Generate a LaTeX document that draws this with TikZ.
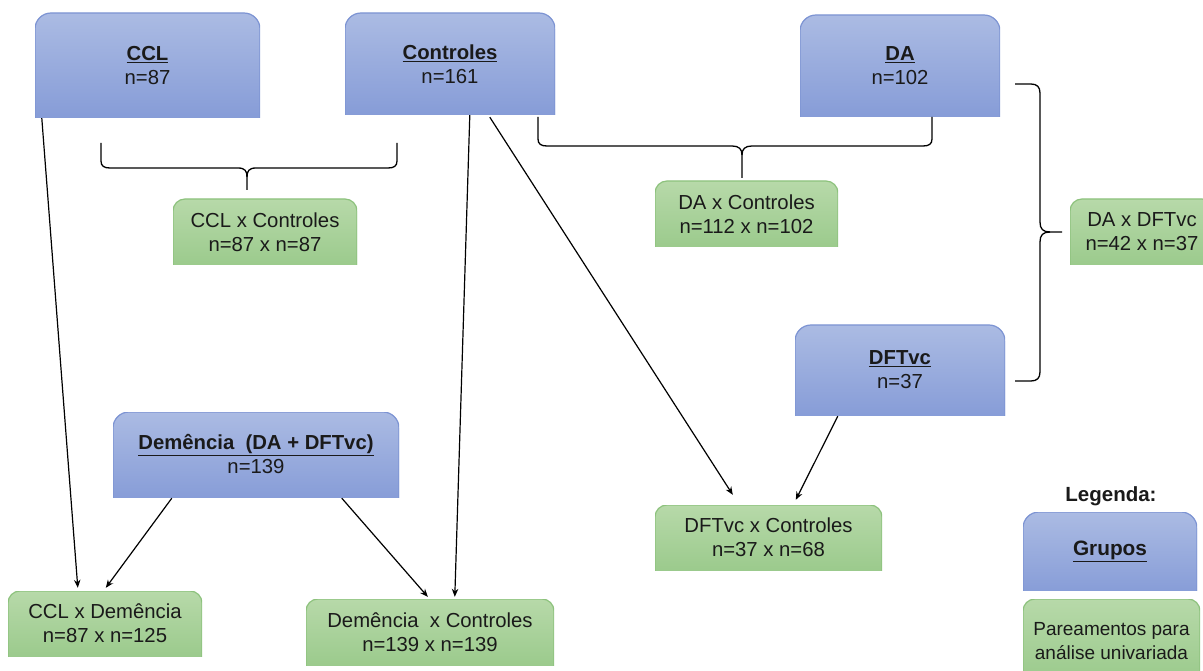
\documentclass[tikz,border=0pt]{standalone}
\usepackage{fontspec}
\setmainfont{Liberation Sans}
\usetikzlibrary{arrows.meta,calc}
\definecolor{bluetop}{HTML}{ABBBE3}
\definecolor{bluebot}{HTML}{7F96D5}
\definecolor{blueedge}{HTML}{7D94D3}
\definecolor{greentop}{HTML}{B7D9A9}
\definecolor{greenbot}{HTML}{93C684}
\definecolor{greenedge}{HTML}{8DC27D}
\definecolor{txt}{HTML}{1A1A1A}
\begin{document}
\begin{tikzpicture}[x=1pt,y=-1pt,
  boxbase/.style={inner sep=0pt, text=txt, align=center, font=\fontsize{20.3}{24}\selectfont},
  grp/.style={boxbase,
    path picture={\path[top color=bluetop,bottom color=bluebot,draw=blueedge,line width=1.2pt,rounded corners=16pt]
      ([yshift=-20pt]path picture bounding box.south west) rectangle (path picture bounding box.north east);}},
  pair/.style={boxbase,
    path picture={\path[top color=greentop,bottom color=greenbot,draw=greenedge,line width=1.2pt,rounded corners=12pt]
      ([yshift=-20pt]path picture bounding box.south west) rectangle (path picture bounding box.north east);}},
  conn/.style={draw=black, line width=1.2pt, -{Stealth[length=8pt,width=6.5pt]}},
  bracestyle/.style={draw=black, line width=1.3pt}]
\useasboundingbox (0,0) rectangle (1203,671);

% group boxes
\node[grp, minimum width=225pt, minimum height=105pt] (ccl) at (147.5,65.5) {\underline{\textbf{CCL}}\\n=87};
\node[grp, minimum width=210pt, minimum height=102pt] (ctrl) at (450,64) {\underline{\textbf{Controles}}\\n=161};
\node[grp, minimum width=200pt, minimum height=102pt] (da) at (900,66) {\underline{\textbf{DA}}\\n=102};
\node[grp, minimum width=210pt, minimum height=90pt] (dft) at (900,370) {\underline{\textbf{DFTvc}}\\n=37};
\node[grp, minimum width=286pt, minimum height=85pt] (dem) at (256,454.5) {\underline{\textbf{Demência\ \ (DA + DFTvc)}}\\n=139};

% pair boxes
\node[pair, minimum width=184pt, minimum height=66pt] (cclxc) at (265,232) {CCL x Controles\\n=87 x n=87};
\node[pair, minimum width=183pt, minimum height=66pt] (daxc) at (746.5,214) {DA x Controles\\n=112 x n=102};
\node[pair, minimum width=144pt, minimum height=66pt] (daxdft) at (1142,232) {DA x DFTvc\\n=42 x n=37};
\node[pair, minimum width=227pt, minimum height=65pt] (dftxc) at (768.5,537.5) {DFTvc x Controles\\n=37 x n=68};
\node[pair, minimum width=194pt, minimum height=65pt] (ccld) at (105,623.5) {CCL x Demência\\n=87 x n=125};
\node[pair, minimum width=248pt, minimum height=66pt] (dxc) at (430,632) {Demência\ \ x Controles\\n=139 x n=139};

% legend
\node[inner sep=0pt, text=txt, font=\fontsize{20.5}{24}\selectfont\bfseries] (leg) at (1111,496) {Legenda:};
\node[grp, minimum width=174pt, minimum height=78pt, font=\fontsize{20.8}{24}\selectfont] (lgrp) at (1110,551) {\underline{\textbf{Grupos}}};
\node[pair, minimum width=177pt, minimum height=84pt, font=\fontsize{19}{24}\selectfont] (lpair) at (1111.5,641) {Pareamentos para\\análise univariada};

% connectors
\draw[conn] ($(ccl.south west)+(7,0)$) -- ($(ccld.north west)+(70,-3)$);
\draw[conn] ($(ctrl.south west)+(125,0)$) -- ($(dxc.north west)+(149,-2)$);
\draw[conn] ($(ctrl.south west)+(145,2)$) -- ($(dftxc.north west)+(78,-10)$);
\draw[conn] ($(dft.south west)+(43,1)$) -- ($(dftxc.north west)+(141,-5)$);
\draw[conn] ($(dem.south west)+(59,1)$) -- ($(ccld.north west)+(98,-3)$);
\draw[conn] ($(dem.south west)+(229,1)$) -- ($(dxc.north west)+(122,-2)$);

% braces
\draw[bracestyle] (101,143) -- (101,161) .. controls (101,166) and (104,168) .. (110,168)
  -- (238,168) .. controls (245,168) and (247,171) .. (247,177) -- (247,190);
\draw[bracestyle] (247,177) .. controls (247,171) and (249,168) .. (256,168)
  -- (388,168) .. controls (394,168) and (397,166) .. (397,161) -- (397,143);

\draw[bracestyle] (538,117) -- (538,139) .. controls (538,144) and (541,146) .. (547,146)
  -- (732,146) .. controls (739,146) and (742,149) .. (742,155) -- (742,178);
\draw[bracestyle] (742,155) .. controls (742,149) and (745,146) .. (752,146)
  -- (923,146) .. controls (929,146) and (932,144) .. (932,139) -- (932,117);

\draw[bracestyle] (1015,84) -- (1031,84) .. controls (1037,84) and (1040,87) .. (1040,93)
  -- (1040,222) .. controls (1040,229) and (1043,232) .. (1050,232) -- (1062,232);
\draw[bracestyle] (1050,232) .. controls (1043,232) and (1040,235) .. (1040,242)
  -- (1040,372) .. controls (1040,378) and (1037,381) .. (1031,381) -- (1015,381);
\end{tikzpicture}
\end{document}
